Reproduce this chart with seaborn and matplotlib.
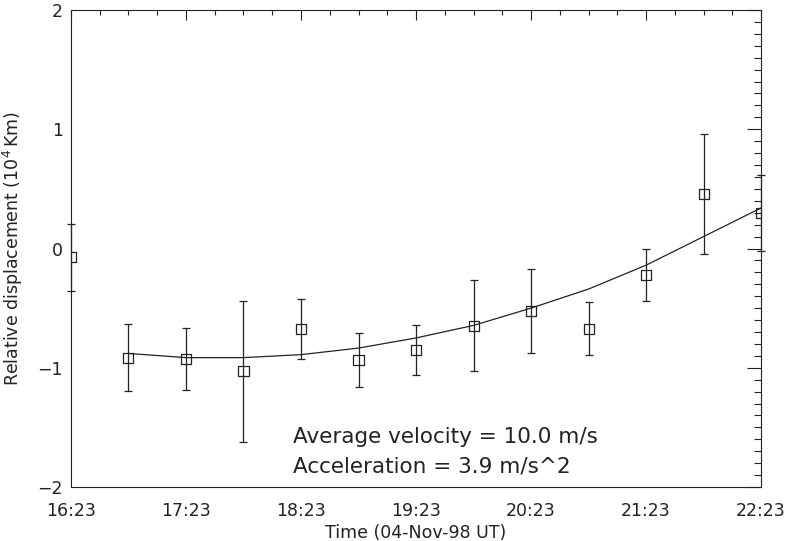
"""
Relative displacement vs. time with quadratic fit, IDL-style plot.
"""

import numpy as np
import pandas as pd
import matplotlib
matplotlib.use("Agg")
import matplotlib.pyplot as plt
import seaborn as sns
from matplotlib.ticker import MultipleLocator, FixedLocator, FixedFormatter

# Observation times (04-Nov-98 UT)
obs_times = ["16:23", "16:53", "17:23", "17:53", "18:23", "18:53", "19:23",
             "19:53", "20:23", "20:53", "21:23", "21:53", "22:23"]
# Relative displacement (10^4 km) and its error
displacement = [-0.075, -0.915, -0.925, -1.03, -0.675, -0.935, -0.85,
                -0.647, -0.524, -0.672, -0.22, 0.457, 0.30]
disp_error = [0.28, 0.28, 0.26, 0.59, 0.25, 0.23, 0.21,
              0.38, 0.35, 0.22, 0.22, 0.50, 0.32]

# Fitted curve (drawn from the second observation on)
fit_times = obs_times[1:]
fit_curve = [-0.88, -0.915, -0.915, -0.89, -0.835, -0.75,
             -0.645, -0.50, -0.34, -0.14, 0.10, 0.34]

tick_labels = ["16:23", "17:23", "18:23", "19:23", "20:23", "21:23", "22:23"]

velocity_text = "Average velocity = 10.0 m/s"
accel_text = "Acceleration = 3.9 m/s^2"


def to_minutes(times, start="16:23"):
    t = pd.to_datetime(times, format="%H:%M")
    t0 = pd.to_datetime(start, format="%H:%M")
    return ((t - t0).total_seconds() / 60.0).to_numpy()


df = pd.DataFrame({
    "minutes": to_minutes(obs_times),
    "disp": displacement,
    "err": disp_error,
})
fit_df = pd.DataFrame({"minutes": to_minutes(fit_times), "fit": fit_curve})
tick_pos = to_minutes(tick_labels)

sns.set_style("white")
plt.rcParams["font.family"] = ["DejaVu Sans"]
ink = "#222222"

fig = plt.figure(figsize=(7.87, 5.41), dpi=100)
ax = fig.add_axes([0.0902, 0.0998, 0.8768, 0.8817])

# Error bars (caps may overhang the frame at the edges)
eb = ax.errorbar(df["minutes"], df["disp"], yerr=df["err"], fmt="none",
                 ecolor=ink, elinewidth=0.9, capsize=2.7, capthick=0.9)
for child in list(eb[1]) + list(eb[2]):
    child.set_clip_on(False)

# Square markers (clipped by the frame)
sns.scatterplot(data=df, x="minutes", y="disp", marker="s", s=52,
                fc="none", ec=ink, linewidth=0.9, ax=ax, zorder=3)

# Fit curve
sns.lineplot(data=fit_df, x="minutes", y="fit", color=ink, lw=0.9, ax=ax)

ax.set_xlim(0, 360)
ax.set_ylim(-2, 2)

ax.xaxis.set_major_locator(FixedLocator(tick_pos))
ax.xaxis.set_major_formatter(FixedFormatter(tick_labels))
ax.xaxis.set_minor_locator(MultipleLocator(15))
ax.yaxis.set_major_locator(MultipleLocator(1))
ax.yaxis.set_minor_locator(MultipleLocator(0.1))

ax.tick_params(which="both", direction="in", top=True, right=True,
               color=ink, width=0.8, labelcolor=ink, labelsize=12.5)
ax.tick_params(axis="x", which="major", length=7, pad=11)
ax.tick_params(axis="x", which="minor", length=3.5)
ax.tick_params(axis="y", which="major", length=10, pad=6)
ax.tick_params(axis="y", which="minor", length=5)

for spine in ax.spines.values():
    spine.set_visible(True)
    spine.set_color(ink)
    spine.set_linewidth(0.8)

ax.set_xlabel("Time (04-Nov-98 UT)", fontsize=12.5, color=ink, labelpad=3)
ax.set_ylabel(r"Relative displacement (10$^{4}\,$Km)", fontsize=12.5,
              color=ink, labelpad=9)

ax.text(0.322, 0.093, velocity_text, transform=ax.transAxes, fontsize=15.5,
        color=ink, va="baseline", ha="left")
ax.text(0.322, 0.031, accel_text, transform=ax.transAxes, fontsize=15.5,
        color=ink, va="baseline", ha="left")

fig.savefig("out.png", dpi=100)
